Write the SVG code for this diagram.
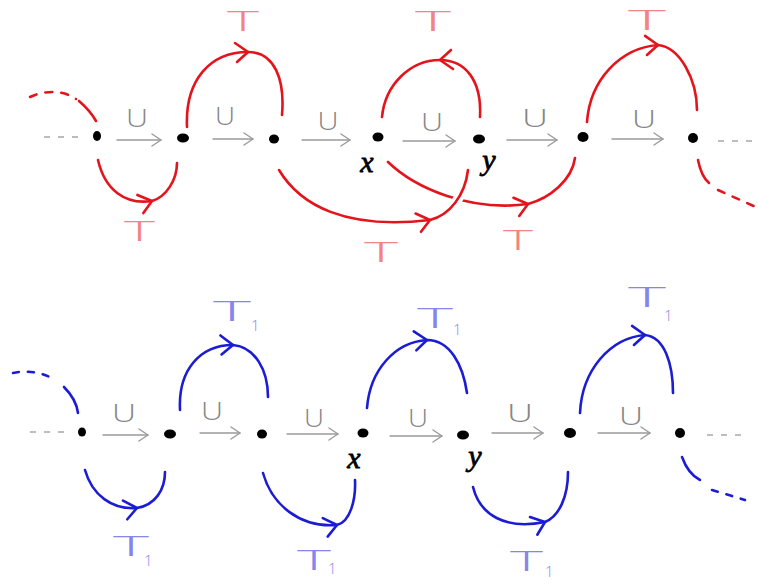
<svg xmlns="http://www.w3.org/2000/svg" width="758" height="586" viewBox="0 0 758 586">
  <style>
    .red { fill: none; stroke: #e3141c; stroke-width: 2.6; stroke-linecap: round; }
    .blue { fill: none; stroke: #1c1cd4; stroke-width: 2.6; stroke-linecap: round; }
    .redArc { marker-mid: url(#chevR); }
    .blueArc { marker-mid: url(#chevB); }
    .halo { fill: none; stroke: #fff; stroke-width: 10; }
    .dash-r { stroke-dasharray: 7 9; }
    .dash-b { stroke-dasharray: 6 9; }
    .sub { fill: none; stroke: #9a9a9a; stroke-width: 1.4; stroke-linecap: round; marker-end: url(#chevG); }
    .dots { fill: none; stroke: #a8a8a8; stroke-width: 1.3; stroke-dasharray: 6 8; }
    .cup { font-family: "Open Sans", "DejaVu Sans", sans-serif; font-weight: 300; font-size: 25px; fill: #858585; text-anchor: middle; }
    .node { fill: #000; }
    .var { font-family: "Liberation Serif", serif; font-style: italic; font-size: 30px; fill: #000; stroke: #000; stroke-width: 0.8; text-anchor: middle; }
    .tR { font-family: "Open Sans", "Liberation Sans", sans-serif; font-weight: 300; font-size: 28px; fill: #f28484; }
    .tB { font-family: "Open Sans", "Liberation Sans", sans-serif; font-weight: 300; font-size: 28px; fill: #8585ea; }
    .tB .s { font-size: 15px; }
  </style>
  <defs>
    <marker id="chevR" markerUnits="userSpaceOnUse" viewBox="-16 -12 20 24" markerWidth="20" markerHeight="24" refX="0" refY="0" orient="auto" overflow="visible">
      <path d="M-13,-9 L0,0 L-11,10" fill="none" stroke="#e3141c" stroke-width="2.6" stroke-linecap="round" stroke-linejoin="round"/>
    </marker>
    <marker id="chevB" markerUnits="userSpaceOnUse" viewBox="-16 -12 20 24" markerWidth="20" markerHeight="24" refX="0" refY="0" orient="auto" overflow="visible">
      <path d="M-13,-9 L0,0 L-11,10" fill="none" stroke="#1c1cd4" stroke-width="2.6" stroke-linecap="round" stroke-linejoin="round"/>
    </marker>
    <marker id="chevG" markerUnits="userSpaceOnUse" viewBox="-12 -8 14 16" markerWidth="14" markerHeight="16" refX="0" refY="0" orient="auto" overflow="visible">
      <path d="M-9,-6 L0,0 L-9,6" fill="none" stroke="#9a9a9a" stroke-width="1.4" stroke-linecap="round" stroke-linejoin="round"/>
    </marker>
  </defs>

  <rect width="758" height="586" fill="#fff"/>

  <!-- upper chain: U-steps between points -->
  <g id="chain-top-steps">
    <path class="dots" d="M44,137 L82,137"/>
    <path class="sub" d="M117,140 L161,140"/>
    <path class="sub" d="M213,139 L253,139"/>
    <path class="sub" d="M302,140 L350,140"/>
    <path class="sub" d="M403,141 L455,141"/>
    <path class="sub" d="M507,140 L557,140"/>
    <path class="sub" d="M612,139 L663,139"/>
    <path class="dots" d="M718,141 L758,141"/>
    <text class="cup" x="137" y="127" textLength="22" lengthAdjust="spacingAndGlyphs">U</text>
    <text class="cup" x="225" y="125" textLength="20" lengthAdjust="spacingAndGlyphs">U</text>
    <text class="cup" x="328" y="130" textLength="21" lengthAdjust="spacingAndGlyphs">U</text>
    <text class="cup" x="432" y="131" textLength="22" lengthAdjust="spacingAndGlyphs">U</text>
    <text class="cup" x="535" y="127" textLength="26" lengthAdjust="spacingAndGlyphs">U</text>
    <text class="cup" x="644" y="128" textLength="24" lengthAdjust="spacingAndGlyphs">U</text>
  </g>

  <!-- upper chain: T-arcs -->
  <g id="arcs-top">
    <path class="red dash-r" d="M30,97 C44,90 64,90 76,99"/>
    <path class="red" d="M79,101 C86,107 92,114 96,121"/>
    <path class="red redArc" d="M98,160 C105,190 125,205 152,201 C166,197 177,180 177,163"/>
    <path class="red redArc" d="M187,127 C185,80 210,52 248,52 C275,52 285,80 282,115"/>
    <path class="red redArc" d="M388,162 C415,188 470,212 528,204 C550,198 572,180 575,158"/>
    <path class="halo" d="M440,217 C452,212 463,195 468,172"/>
    <path class="red redArc" d="M279,170 C300,205 345,230 430,220 C450,215 465,195 468,170"/>
    <path class="red redArc" d="M480,117 C482,80 465,60 440,60 C410,60 385,85 382,117"/>
    <path class="red redArc" d="M587,122 C590,80 620,48 658,45 C680,47 697,80 697,110"/>
    <path class="red" d="M698,160 C700,170 703,178 709,183"/>
    <path class="red dash-r" d="M718,190 L758,208"/>
  </g>

  <g id="labels-top">
    <text class="tR" x="227" y="31" textLength="32" lengthAdjust="spacingAndGlyphs">T</text>
    <text class="tR" x="124" y="241" textLength="31" lengthAdjust="spacingAndGlyphs">T</text>
    <text class="tR" x="364" y="262" textLength="34" lengthAdjust="spacingAndGlyphs">T</text>
    <text class="tR" x="415" y="31" textLength="36" lengthAdjust="spacingAndGlyphs">T</text>
    <text class="tR" x="628" y="30" textLength="38" lengthAdjust="spacingAndGlyphs">T</text>
    <text class="tR" x="503" y="250" textLength="30" lengthAdjust="spacingAndGlyphs">T</text>
  </g>

  <g id="nodes-top">
    <ellipse class="node" cx="97" cy="136" rx="4" ry="5"/>
    <ellipse class="node" cx="183" cy="138" rx="6" ry="4.5"/>
    <ellipse class="node" cx="274" cy="139" rx="5" ry="4.5"/>
    <g id="x-top"><ellipse class="node" cx="378" cy="137" rx="5.5" ry="4.5"/><text class="var" x="367" y="172">x</text></g>
    <g id="y-top"><ellipse class="node" cx="479" cy="139" rx="6" ry="4.5"/><text class="var" x="489" y="170">y</text></g>
    <ellipse class="node" cx="583" cy="137" rx="5.5" ry="5"/>
    <ellipse class="node" cx="693" cy="138" rx="5" ry="5"/>
  </g>

  <!-- lower chain: U-steps between points -->
  <g id="chain-bottom-steps">
    <path class="dots" d="M30,432 L68,432"/>
    <path class="sub" d="M103,435 L148,435"/>
    <path class="sub" d="M200,433 L240,433"/>
    <path class="sub" d="M287,434 L338,434"/>
    <path class="sub" d="M390,436 L442,436"/>
    <path class="sub" d="M492,433 L543,433"/>
    <path class="sub" d="M598,433 L650,433"/>
    <path class="dots" d="M707,435 L745,435"/>
    <text class="cup" x="124" y="422" textLength="24" lengthAdjust="spacingAndGlyphs">U</text>
    <text class="cup" x="212" y="420" textLength="22" lengthAdjust="spacingAndGlyphs">U</text>
    <text class="cup" x="314" y="427" textLength="20" lengthAdjust="spacingAndGlyphs">U</text>
    <text class="cup" x="418" y="427" textLength="20" lengthAdjust="spacingAndGlyphs">U</text>
    <text class="cup" x="520" y="422" textLength="26" lengthAdjust="spacingAndGlyphs">U</text>
    <text class="cup" x="631" y="425" textLength="24" lengthAdjust="spacingAndGlyphs">U</text>
  </g>

  <!-- lower chain: T1-arcs -->
  <g id="arcs-bottom">
    <path class="blue dash-b" d="M13,373 C25,370 40,372 52,378"/>
    <path class="blue" d="M64,387 C72,395 77,405 78,413"/>
    <path class="blue blueArc" d="M85,470 C92,495 112,510 137,508 C155,505 165,490 165,472"/>
    <path class="blue blueArc" d="M180,410 C178,370 200,345 233,345 C255,347 268,370 268,397"/>
    <path class="blue blueArc" d="M263,473 C272,505 300,528 337,525 C350,522 356,500 355,480"/>
    <path class="blue blueArc" d="M367,408 C370,370 395,342 427,340 C450,340 463,365 467,393"/>
    <path class="blue blueArc" d="M473,487 C480,515 505,530 545,522 C560,516 568,495 568,472"/>
    <path class="blue blueArc" d="M580,413 C582,370 610,338 645,335 C665,337 673,365 673,393"/>
    <path class="blue" d="M682,457 C686,468 692,476 700,480"/>
    <path class="blue dash-b" d="M712,490 L745,500"/>
  </g>

  <g id="labels-bottom">
    <text class="tB"><tspan x="213" y="321" textLength="38" lengthAdjust="spacingAndGlyphs">T</tspan><tspan class="s" x="251" y="331">1</tspan></text>
    <text class="tB"><tspan x="113" y="556" textLength="36" lengthAdjust="spacingAndGlyphs">T</tspan><tspan class="s" x="144" y="566">1</tspan></text>
    <text class="tB"><tspan x="297" y="570" textLength="34" lengthAdjust="spacingAndGlyphs">T</tspan><tspan class="s" x="328" y="574">1</tspan></text>
    <text class="tB"><tspan x="417" y="328" textLength="36" lengthAdjust="spacingAndGlyphs">T</tspan><tspan class="s" x="453" y="335">1</tspan></text>
    <text class="tB"><tspan x="510" y="571" textLength="33" lengthAdjust="spacingAndGlyphs">T</tspan><tspan class="s" x="545" y="577">1</tspan></text>
    <text class="tB"><tspan x="628" y="307" textLength="38" lengthAdjust="spacingAndGlyphs">T</tspan><tspan class="s" x="664" y="321">1</tspan></text>
  </g>

  <g id="nodes-bottom">
    <ellipse class="node" cx="82" cy="432" rx="4" ry="4.5"/>
    <ellipse class="node" cx="170" cy="434" rx="6" ry="4.5"/>
    <ellipse class="node" cx="262" cy="434" rx="5" ry="4.5"/>
    <g id="x-bottom"><ellipse class="node" cx="363" cy="433" rx="5.5" ry="4.5"/><text class="var" x="354" y="468">x</text></g>
    <g id="y-bottom"><ellipse class="node" cx="463" cy="435" rx="6" ry="4.5"/><text class="var" x="475" y="466">y</text></g>
    <ellipse class="node" cx="570" cy="433" rx="6" ry="5"/>
    <ellipse class="node" cx="680" cy="433" rx="5" ry="5"/>
  </g>
</svg>
